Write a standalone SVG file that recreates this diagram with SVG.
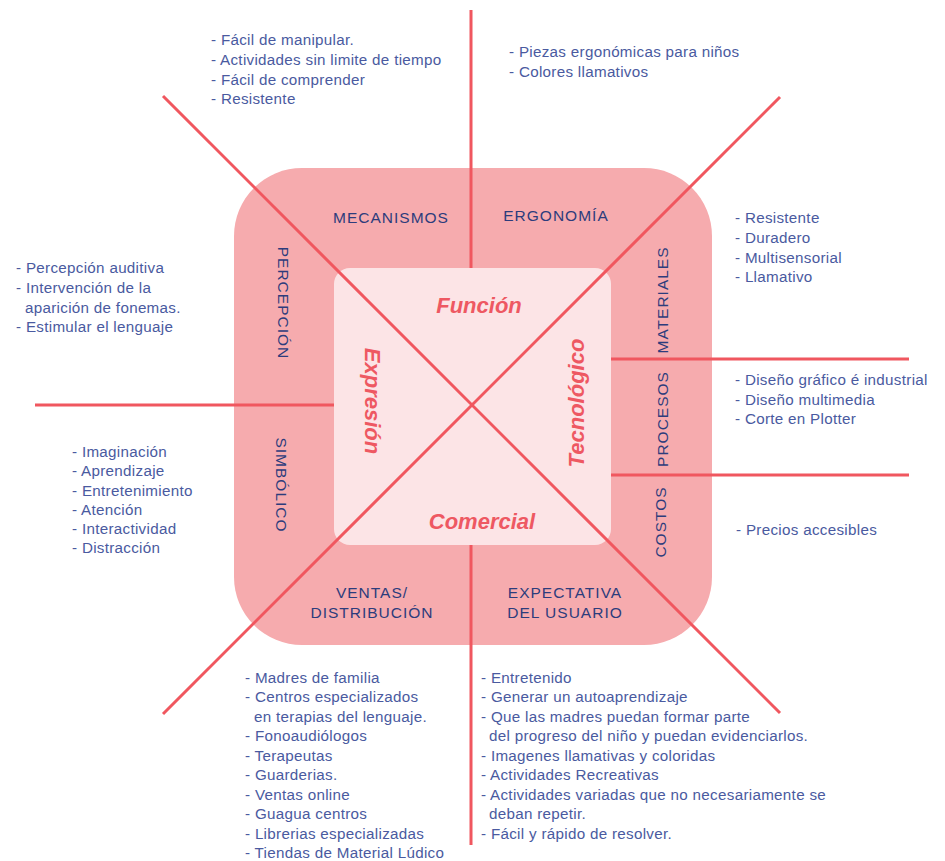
<svg xmlns="http://www.w3.org/2000/svg" width="945" height="861" viewBox="0 0 945 861">
<style>
.lbl{font-family:"Liberation Sans",Arial,sans-serif;font-size:15.5px;fill:#2D3C7C;letter-spacing:1px;text-anchor:middle}
.axis{font-family:"Liberation Sans",Arial,sans-serif;font-size:22px;font-weight:bold;font-style:italic;fill:#EE5862;text-anchor:middle}
.lst{font-family:"Liberation Sans",Arial,sans-serif;font-size:15.2px;letter-spacing:0.3px;fill:#4A5AA0}
.ln{stroke:#F0575F;stroke-width:3;fill:none}
</style>
<rect width="945" height="861" fill="#FFFFFF"/>
<g id="outer"><rect x="234" y="168" width="478" height="477" rx="68" fill="#F6ABAE"/></g>
<g id="inner"><rect x="334" y="268" width="277" height="277" rx="16" fill="#FCE4E6"/></g>
<g id="connectors">
<line class="ln" x1="471" y1="10" x2="471" y2="268"/>
<line class="ln" x1="471" y1="545" x2="471" y2="845"/>
<line class="ln" x1="163" y1="96" x2="780" y2="713"/>
<line class="ln" x1="780" y1="97" x2="163" y2="714"/>
<line class="ln" x1="35" y1="405" x2="334" y2="405"/>
<line class="ln" x1="611" y1="359" x2="909" y2="359"/>
<line class="ln" x1="611" y1="475" x2="909" y2="475"/>
</g>
<g id="axes">
<text class="axis" x="479" y="313">Función</text>
<text class="axis" x="482" y="529">Comercial</text>
<text class="axis" transform="translate(372 401) rotate(90)" dominant-baseline="central">Expresión</text>
<text class="axis" transform="translate(576 403) rotate(-90)" dominant-baseline="central">Tecnológico</text>
</g>
<g id="labels">
<text class="lbl" x="391" y="223">MECANISMOS</text>
<text class="lbl" x="556" y="221">ERGONOMÍA</text>
<text class="lbl" transform="translate(283 303) rotate(90)" dominant-baseline="central">PERCEPCIÓN</text>
<text class="lbl" transform="translate(281 485) rotate(90)" dominant-baseline="central">SIMBÓLICO</text>
<text class="lbl" transform="translate(662 300) rotate(-90)" dominant-baseline="central">MATERIALES</text>
<text class="lbl" transform="translate(662 419) rotate(-90)" dominant-baseline="central">PROCESOS</text>
<text class="lbl" transform="translate(660 522) rotate(-90)" dominant-baseline="central">COSTOS</text>
<text class="lbl" x="372" y="598">VENTAS/</text>
<text class="lbl" x="372" y="618">DISTRIBUCIÓN</text>
<text class="lbl" x="565" y="598">EXPECTATIVA</text>
<text class="lbl" x="565" y="618">DEL USUARIO</text>
</g>
<g id="list-mecanismos" class="lst">
<text x="211" y="45">- Fácil de manipular.</text>
<text x="211" y="65">- Actividades sin limite de tiempo</text>
<text x="211" y="85">- Fácil de comprender</text>
<text x="211" y="104">- Resistente</text>
</g>
<g id="list-ergonomia" class="lst">
<text x="509" y="57">- Piezas ergonómicas para niños</text>
<text x="509" y="77">- Colores llamativos</text>
</g>
<g id="list-percepcion" class="lst">
<text x="16" y="273">- Percepción auditiva</text>
<text x="16" y="293">- Intervención de la</text>
<text x="25" y="313">aparición de fonemas.</text>
<text x="16" y="332">- Estimular el lenguaje</text>
</g>
<g id="list-simbolico" class="lst">
<text x="72" y="457">- Imaginación</text>
<text x="72" y="476">- Aprendizaje</text>
<text x="72" y="496">- Entretenimiento</text>
<text x="72" y="515">- Atención</text>
<text x="72" y="534">- Interactividad</text>
<text x="72" y="553">- Distracción</text>
</g>
<g id="list-materiales" class="lst">
<text x="735" y="223">- Resistente</text>
<text x="735" y="243">- Duradero</text>
<text x="735" y="263">- Multisensorial</text>
<text x="735" y="282">- Llamativo</text>
</g>
<g id="list-procesos" class="lst">
<text x="735" y="385">- Diseño gráfico é industrial</text>
<text x="735" y="405">- Diseño multimedia</text>
<text x="735" y="424">- Corte en Plotter</text>
</g>
<g id="list-costos" class="lst">
<text x="736" y="535">- Precios accesibles</text>
</g>
<g id="list-ventas" class="lst">
<text x="245" y="683">- Madres de familia</text>
<text x="245" y="702">- Centros especializados</text>
<text x="254" y="722">en terapias del lenguaje.</text>
<text x="245" y="741">- Fonoaudiólogos</text>
<text x="245" y="761">- Terapeutas</text>
<text x="245" y="780">- Guarderias.</text>
<text x="245" y="800">- Ventas online</text>
<text x="245" y="819">- Guagua centros</text>
<text x="245" y="839">- Librerias especializadas</text>
<text x="245" y="858">- Tiendas de Material Lúdico</text>
</g>
<g id="list-expectativa" class="lst">
<text x="481" y="683">- Entretenido</text>
<text x="481" y="702">- Generar un autoaprendizaje</text>
<text x="481" y="722">- Que las madres puedan formar parte</text>
<text x="489" y="741">del progreso del niño y puedan evidenciarlos.</text>
<text x="481" y="761">- Imagenes llamativas y coloridas</text>
<text x="481" y="780">- Actividades Recreativas</text>
<text x="481" y="800">- Actividades variadas que no necesariamente se</text>
<text x="489" y="819">deban repetir.</text>
<text x="481" y="839">- Fácil y rápido de resolver.</text>
</g>
</svg>
